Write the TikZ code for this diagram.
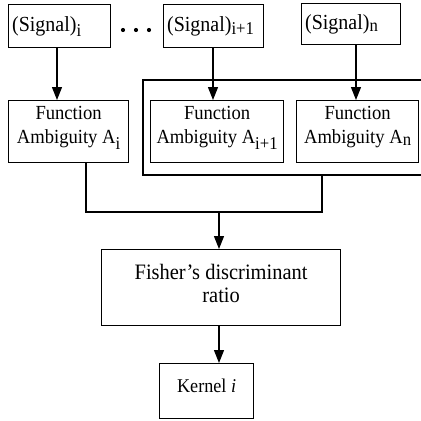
\documentclass[tikz,border=0pt]{standalone}
\usepackage{fontspec}
\setmainfont[FakeStretch=0.93]{Liberation Serif}
\usetikzlibrary{arrows.meta}
% lowered, larger-than-usual subscript
\newcommand\lowsub[2][0.3ex]{\raisebox{-#1}{\fontsize{18}{18}\selectfont #2}}
% invisible rule that deepens the last line of a box
\newcommand\deepline[1]{\rule[-#1]{0pt}{0pt}}
\tikzset{
  box/.style={draw, line width=1.2pt, inner sep=2pt, align=center,
    font=\fontsize{20}{24}\selectfont},
  sigbox/.style={box, font=\fontsize{21.5}{24}\selectfont, align=left, inner xsep=3pt},
  link/.style={line width=1.2pt},
  arr/.style={link, -{Triangle[width=10pt,length=13pt]}},
}
\begin{document}
\begin{tikzpicture}[x=1pt,y=-1pt]
\useasboundingbox (0,0) rectangle (421,421);
% input signals
\node[sigbox, minimum width=102pt, minimum height=43pt, anchor=north west, text width=95pt] (sigi) at (8,4) {(Signal)\lowsub[0.5ex]{i}};
\node[sigbox, minimum width=100pt, minimum height=43pt, anchor=north west, text width=93pt] (sigb) at (163,4) {(Signal)\lowsub{i+1}};
\node[sigbox, minimum width=99pt, minimum height=41pt, anchor=north west, text width=92pt] (sign) at (301,3) {(Signal)\lowsub[0.2ex]{n}};
\foreach \dx in {123,136,149} \fill (\dx,30) circle (2.1pt);
% ambiguity functions
\node[box, minimum width=120pt, minimum height=62pt, anchor=north west] (fai) at (8,100) {Function\\Ambiguity A\lowsub[0.6ex]{i}\deepline{13pt}};
\node[box, minimum width=133pt, minimum height=62pt, anchor=north west] (fab) at (150,100) {Function\\Ambiguity A\lowsub[0.6ex]{i+1}\deepline{13pt}};
\node[box, minimum width=122pt, minimum height=62pt, anchor=north west] (fan) at (296,100) {Function\\Ambiguity A\lowsub[0.2ex]{n}\deepline{13pt}};
% group frame, open on the right
\coordinate (gtr) at (423,80);
\coordinate (gtl) at (143,80);
\coordinate (gbl) at (143,175);
\coordinate (gbr) at (423,175);
\draw[link] (gtr) -- (gtl) -- (gbl) -- (gbr);
% fisher ratio and kernel
\node[box, minimum width=239pt, minimum height=76pt, anchor=north west, font=\fontsize{22}{22.5}\selectfont] (fdr) at (101,249) {Fisher’s discriminant\\ratio\deepline{8pt}};
\node[box, minimum width=94pt, minimum height=55pt, anchor=north west, font=\fontsize{19.5}{23}\selectfont, text height=14pt, text depth=11pt] (ker) at (159,363) {Kernel \textit{i}};
% arrows from signals
\draw[arr] (57,47) coordinate (ai) -- (ai |- fai.north);
\draw[arr] (213,47) coordinate (ab) -- (ab |- fab.north);
\draw[arr] (356,44) coordinate (an) -- (an |- fan.north);
% merging lines
\coordinate (mj) at (219,212);
\coordinate (ml) at (86,162);
\coordinate (mr) at (322,175);
\draw[link] (ml) -- (ml |- mj) -- (mr |- mj) -- (mr);
\draw[arr] (mj) -- (mj |- fdr.north);
\draw[arr] (mj |- fdr.south) -- (mj |- ker.north);
\end{tikzpicture}
\end{document}
